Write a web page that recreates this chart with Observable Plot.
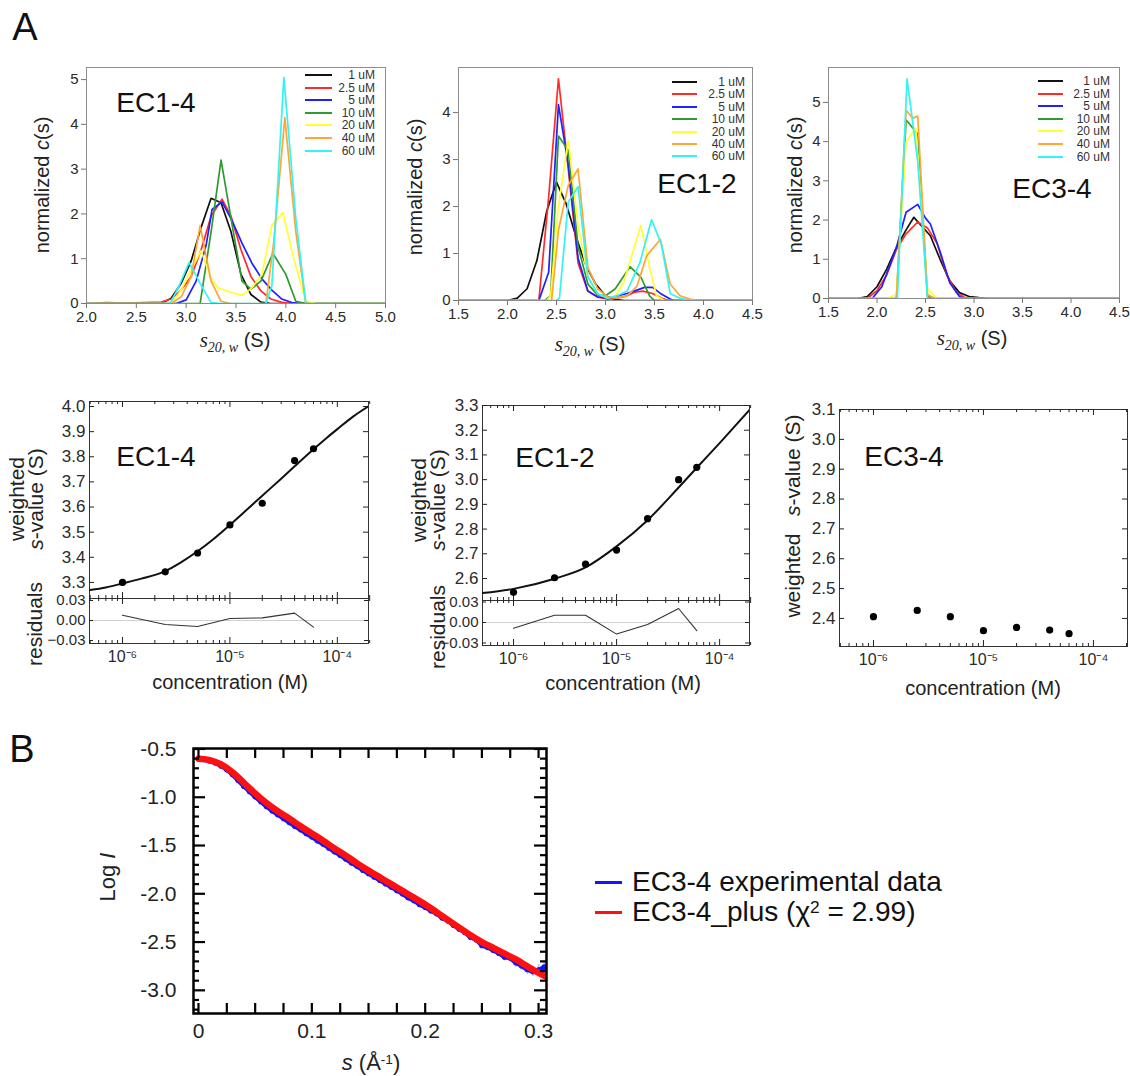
<!DOCTYPE html>
<html><head><meta charset="utf-8"><title>AUC and SAXS figure</title>
<script src="https://cdn.jsdelivr.net/npm/d3@7"></script>
<script src="https://cdn.jsdelivr.net/npm/@observablehq/plot@0.6"></script>
<style>
html,body{margin:0;padding:0;background:#fff;}
#root{position:relative;width:1130px;height:1076px;overflow:hidden;background:#fff;font-family:'Liberation Sans',Arial,Helvetica,sans-serif;color:#222;}
.lbl{position:absolute;white-space:nowrap;line-height:1;}
.ser{font-family:'Liberation Serif','Times New Roman',serif;font-style:italic;}
.sp{position:relative;top:-0.45em;font-size:0.62em;line-height:0;}
</style></head><body><div id="root"></div>
<script>
const FONT = "'Liberation Sans', Arial, Helvetica, sans-serif";

// ---------- Panel A top row: c(s) distributions ----------
const concLabels = ["1 uM", "2.5 uM", "5 uM", "10 uM", "20 uM", "40 uM", "60 uM"];
const concColors = ["#111111", "#ff2b2b", "#2020ff", "#2f9a2f", "#ffff33", "#ffa634", "#33f3f3"];

// EC1-4  [s20,w (S), normalized c(s)]
const ec14_1uM = [[2.0,0],[2.75,0],[2.85,0.12],[2.95,0.45],[3.05,0.95],[3.15,1.7],[3.25,2.35],[3.35,2.25],[3.45,1.6],[3.55,0.65],[3.65,0.2],[3.75,0.03],[3.85,0],[5.0,0]];
const ec14_2_5uM = [[2.0,0],[2.2,0.02],[2.4,0.01],[2.75,0.03],[2.85,0.1],[2.95,0.3],[3.05,0.6],[3.15,1.2],[3.25,1.95],[3.36,2.33],[3.45,1.95],[3.55,1.2],[3.65,0.6],[3.75,0.28],[3.85,0.1],[3.95,0.03],[4.05,0],[5.0,0]];
const ec14_5uM = [[2.0,0],[2.9,0],[3.0,0.08],[3.1,0.5],[3.2,1.3],[3.26,2.1],[3.36,2.27],[3.46,1.85],[3.56,1.35],[3.66,0.9],[3.76,0.55],[3.86,0.3],[3.96,0.1],[4.06,0.02],[4.15,0],[5.0,0]];
const ec14_10uM = [[2.0,0],[3.14,0],[3.25,1.6],[3.35,3.2],[3.45,1.9],[3.56,0.5],[3.65,0.32],[3.75,0.5],[3.87,1.12],[4.0,0.65],[4.1,0.05],[4.2,0],[5.0,0]];
const ec14_20uM = [[2.0,0],[2.85,0],[2.95,0.3],[3.05,0.75],[3.15,1.18],[3.25,0.55],[3.32,0.35],[3.45,0.25],[3.56,0.18],[3.66,0.35],[3.76,0.65],[3.86,1.75],[3.97,2.03],[4.08,1.0],[4.2,0.06],[4.3,0],[5.0,0]];
const ec14_40uM = [[2.0,0],[2.85,0],[2.95,0.15],[3.05,0.6],[3.14,1.74],[3.25,0.5],[3.35,0.05],[3.45,0],[3.8,0],[3.88,1.4],[3.99,4.15],[4.1,1.6],[4.2,0],[5.0,0]];
const ec14_60uM = [[2.0,0],[2.84,0],[2.93,0.4],[3.03,0.92],[3.14,0.45],[3.25,0.02],[3.35,0],[3.8,0],[3.86,0.4],[3.98,5.05],[4.1,1.9],[4.2,0],[5.0,0]];

// EC1-2
const ec12_1uM = [[1.5,0],[2.0,0],[2.1,0.05],[2.2,0.25],[2.3,0.85],[2.4,1.9],[2.5,2.52],[2.6,2.05],[2.7,1.35],[2.8,0.75],[2.9,0.35],[3.0,0.1],[3.1,0.02],[3.2,0],[4.5,0]];
const ec12_2_5uM = [[1.5,0],[2.32,0],[2.42,2.2],[2.52,4.72],[2.62,2.8],[2.72,0.8],[2.82,0.2],[2.92,0.07],[3.02,0.03],[3.12,0.05],[3.22,0.1],[3.3,0.18],[3.38,0.2],[3.48,0.15],[3.58,0.04],[3.65,0],[4.5,0]];
const ec12_5uM = [[1.5,0],[2.32,0],[2.42,0.6],[2.52,4.17],[2.62,2.9],[2.72,0.9],[2.82,0.2],[2.92,0.08],[3.02,0.05],[3.12,0.1],[3.22,0.15],[3.32,0.22],[3.4,0.28],[3.48,0.28],[3.56,0.15],[3.66,0.03],[3.7,0],[4.5,0]];
const ec12_10uM = [[1.5,0],[2.38,0],[2.44,0.1],[2.52,3.5],[2.62,3.2],[2.72,1.15],[2.82,0.35],[2.92,0.12],[3.0,0.1],[3.1,0.25],[3.18,0.5],[3.25,0.72],[3.36,0.5],[3.45,0.1],[3.5,0],[4.5,0]];
const ec12_20uM = [[1.5,0],[2.4,0],[2.44,0.1],[2.52,2.0],[2.62,3.42],[2.72,1.6],[2.82,0.5],[2.92,0.15],[3.02,0.05],[3.1,0.1],[3.18,0.35],[3.26,0.9],[3.36,1.6],[3.45,0.7],[3.52,0.1],[3.6,0],[4.5,0]];
const ec12_40uM = [[1.5,0],[2.45,0],[2.52,1.5],[2.62,2.45],[2.72,2.8],[2.82,0.7],[2.92,0.25],[3.02,0.08],[3.12,0.05],[3.22,0.1],[3.32,0.3],[3.42,0.95],[3.56,1.3],[3.66,0.35],[3.76,0.1],[3.86,0.03],[3.95,0],[4.5,0]];
const ec12_60uM = [[1.5,0],[2.5,0],[2.53,0.05],[2.62,2.1],[2.72,2.42],[2.82,0.5],[2.92,0.15],[3.02,0.05],[3.12,0.1],[3.22,0.2],[3.35,0.8],[3.47,1.72],[3.57,1.2],[3.66,0.15],[3.76,0.05],[3.86,0],[4.5,0]];

// EC3-4
const ec34_1uM = [[1.5,0],[1.8,0],[1.9,0.05],[2.0,0.3],[2.1,0.75],[2.2,1.3],[2.3,1.75],[2.38,2.07],[2.46,1.85],[2.55,1.6],[2.65,1.0],[2.75,0.45],[2.85,0.15],[2.95,0.05],[3.05,0.02],[3.15,0],[4.5,0]];
const ec34_2_5uM = [[1.5,0],[1.9,0],[2.0,0.2],[2.1,0.6],[2.2,1.25],[2.3,1.65],[2.42,1.95],[2.52,1.8],[2.62,1.4],[2.72,0.6],[2.82,0.15],[2.9,0.03],[3.0,0],[4.5,0]];
const ec34_5uM = [[1.5,0],[1.95,0],[2.05,0.3],[2.2,1.3],[2.3,2.2],[2.42,2.4],[2.5,2.05],[2.55,1.9],[2.65,1.2],[2.75,0.4],[2.85,0.05],[2.9,0],[4.5,0]];
const ec34_10uM = [[1.5,0],[2.2,0],[2.3,4.55],[2.42,4.2],[2.52,0.05],[2.6,0],[4.5,0]];
const ec34_20uM = [[1.5,0],[2.1,0],[2.2,0.1],[2.3,4.0],[2.4,4.35],[2.52,0.25],[2.62,0],[4.5,0]];
const ec34_40uM = [[1.5,0],[2.2,0],[2.3,4.8],[2.37,4.6],[2.42,4.65],[2.52,0.1],[2.6,0],[4.5,0]];
const ec34_60uM = [[1.5,0],[2.21,0],[2.31,5.6],[2.42,3.5],[2.52,0],[4.5,0]];

const csTicksX14 = [2.0, 2.5, 3.0, 3.5, 4.0, 4.5, 5.0];
const csTicksX = [1.5, 2.0, 2.5, 3.0, 3.5, 4.0, 4.5];
const csTicksY5 = [0, 1, 2, 3, 4, 5];
const csTicksY4 = [0, 1, 2, 3, 4];

// ---------- Panel A bottom row: weighted s-values ----------
const concM = [1e-6, 2.5e-6, 5e-6, 1e-5, 2e-5, 4e-5, 6e-5];
const ec14_sw = [3.300, 3.342, 3.417, 3.529, 3.615, 3.785, 3.832];
const ec14_res = [0.008, -0.006, -0.009, 0.003, 0.004, 0.011, -0.010];
const ec14_fitConc = [5e-7, 7e-7, 1e-6, 1.5e-6, 2.5e-6, 3.5e-6, 5e-6, 7e-6, 1e-5, 1.4e-5, 2e-5, 3e-5, 4e-5, 6e-5, 8e-5, 1e-4, 1.4e-4, 2e-4];
const ec14_fitS = [3.270, 3.280, 3.296, 3.315, 3.345, 3.380, 3.424, 3.472, 3.529, 3.585, 3.645, 3.713, 3.762, 3.830, 3.876, 3.910, 3.960, 4.004];

const ec12_sw = [2.544, 2.603, 2.658, 2.715, 2.842, 3.000, 3.050];
const ec12_res = [-0.0085, 0.0105, 0.0105, -0.017, -0.003, 0.0205, -0.012];
const ec12_fitConc = [5e-7, 1e-6, 2.5e-6, 5e-6, 1e-5, 2e-5, 4e-5, 6e-5, 1e-4, 2e-4];
const ec12_fitS = [2.541, 2.558, 2.599, 2.645, 2.730, 2.836, 2.968, 3.048, 3.148, 3.287];

const ec34_sw = [2.406, 2.427, 2.406, 2.359, 2.370, 2.361, 2.349];

const swTicks14 = [3.3, 3.4, 3.5, 3.6, 3.7, 3.8, 3.9, 4.0];
const swTicks12 = [2.6, 2.7, 2.8, 2.9, 3.0, 3.1, 3.2, 3.3];
const swTicks34 = [2.4, 2.5, 2.6, 2.7, 2.8, 2.9, 3.0, 3.1];
const resTicks = [-0.03, 0, 0.03];
const concMajor = [1e-6, 1e-5, 1e-4];
const concMinor = [5e-7, 6e-7, 7e-7, 8e-7, 9e-7, 2e-6, 3e-6, 4e-6, 5e-6, 6e-6, 7e-6, 8e-6, 9e-6, 2e-5, 3e-5, 4e-5, 5e-5, 6e-5, 7e-5, 8e-5, 9e-5, 2e-4];

// ---------- Panel B: SAXS ----------
const bS_fit = [0, 0.005, 0.01, 0.02, 0.03, 0.04, 0.05, 0.06, 0.07, 0.08, 0.09, 0.10, 0.11, 0.12, 0.13, 0.14, 0.15, 0.16, 0.17, 0.18, 0.19, 0.20, 0.21, 0.22, 0.23, 0.24, 0.25, 0.26, 0.27, 0.28, 0.29, 0.30, 0.307];
const bLogI_fit = [-0.60, -0.605, -0.615, -0.66, -0.74, -0.85, -0.96, -1.06, -1.145, -1.22, -1.30, -1.375, -1.45, -1.53, -1.605, -1.685, -1.76, -1.83, -1.90, -1.97, -2.04, -2.11, -2.19, -2.27, -2.35, -2.43, -2.50, -2.56, -2.62, -2.68, -2.75, -2.82, -2.86];
const bS_exp = [0.000, 0.005, 0.010, 0.015, 0.020, 0.025, 0.030, 0.035, 0.040, 0.045, 0.050, 0.055, 0.060, 0.065, 0.070, 0.075, 0.080, 0.085, 0.090, 0.095, 0.100, 0.105, 0.110, 0.115, 0.120, 0.125, 0.130, 0.135, 0.140, 0.145, 0.150, 0.155, 0.160, 0.165, 0.170, 0.175, 0.180, 0.185, 0.190, 0.195, 0.200, 0.205, 0.210, 0.215, 0.220, 0.225, 0.230, 0.235, 0.240, 0.245, 0.250, 0.255, 0.260, 0.265, 0.270, 0.275, 0.280, 0.285, 0.290, 0.295, 0.300, 0.305];
const bLogI_exp = [-0.60, -0.61, -0.625, -0.645, -0.675, -0.715, -0.765, -0.825, -0.885, -0.94, -0.995, -1.045, -1.095, -1.14, -1.18, -1.22, -1.26, -1.30, -1.335, -1.375, -1.41, -1.45, -1.485, -1.525, -1.565, -1.60, -1.64, -1.68, -1.715, -1.755, -1.79, -1.825, -1.86, -1.895, -1.93, -1.965, -2.00, -2.04, -2.07, -2.11, -2.14, -2.175, -2.205, -2.25, -2.28, -2.325, -2.365, -2.40, -2.45, -2.475, -2.535, -2.555, -2.585, -2.615, -2.655, -2.665, -2.715, -2.745, -2.785, -2.805, -2.79, -2.76];
const bErr_exp = [0.004, 0.004, 0.004, 0.004, 0.004, 0.004, 0.004, 0.004, 0.004, 0.004, 0.004, 0.004, 0.004, 0.004, 0.004, 0.004, 0.004, 0.004, 0.004, 0.004, 0.004, 0.004, 0.004, 0.004, 0.004, 0.004, 0.004, 0.004, 0.004, 0.004, 0.004, 0.004, 0.004, 0.004, 0.004, 0.004, 0.004, 0.004, 0.004, 0.004, 0.01, 0.01, 0.012, 0.015, 0.015, 0.018, 0.02, 0.022, 0.025, 0.028, 0.03, 0.032, 0.035, 0.037, 0.04, 0.042, 0.045, 0.048, 0.05, 0.052, 0.055, 0.06];
const bTicksX = [0, 0.1, 0.2, 0.3];
const bTicksXMinor = [0.025, 0.05, 0.075, 0.125, 0.15, 0.175, 0.225, 0.25, 0.275];
const bTicksY = [-3.0, -2.5, -2.0, -1.5, -1.0, -0.5];
const bTicksYMinor = [-3.2, -3.1, -2.9, -2.8, -2.7, -2.6, -2.4, -2.3, -2.2, -2.1, -1.9, -1.8, -1.7, -1.6, -1.4, -1.3, -1.2, -1.1, -0.9, -0.8, -0.7, -0.6];
const bLegend = ["EC3-4 experimental data", "EC3-4_plus (χ<span class=\"sp\">2</span> = 2.99)"];
const bColors = ["#1414ff", "#ff1010"];

// ---------- helpers ----------
const root = document.getElementById("root");
function put(node, left, top) {
  node.style.position = "absolute";
  node.style.left = left + "px";
  node.style.top = top + "px";
  root.appendChild(node);
  return node;
}
function label(html, cx, cy, css = "", mode = "c") {
  const d = document.createElement("div");
  d.className = "lbl";
  d.innerHTML = html;
  d.style.cssText += css;
  d.style.left = cx + "px";
  d.style.top = cy + "px";
  d.style.transform = mode === "r" ? "translate(-50%,-50%) rotate(-90deg)"
    : mode === "right" ? "translate(-100%,-50%)"
    : mode === "left" ? "translate(0,-50%)" : "translate(-50%,-50%)";
  root.appendChild(d);
  return d;
}
function swatch(x1, x2, y, color, h) {
  const d = document.createElement("div");
  d.style.cssText = `position:absolute;left:${x1}px;top:${y - h / 2}px;width:${x2 - x1}px;height:${h}px;background:${color};`;
  root.appendChild(d);
}
const sup = {"-": "⁻", "0": "⁰", "1": "¹", "2": "²", "3": "³", "4": "⁴", "5": "⁵", "6": "⁶", "7": "⁷", "8": "⁸", "9": "⁹"};
const powFmt = d => "10" + String(Math.round(Math.log10(d))).split("").map(c => sup[c]).join("");

function ticksX(ticks, edge, len, fh, sw = 1, stroke = "#222") {
  return Plot.tickX(ticks, {x: d => d, stroke, strokeWidth: sw, [edge === "top" ? "insetBottom" : "insetTop"]: fh - len});
}
function ticksY(ticks, edge, len, fw, sw = 1, stroke = "#222") {
  return Plot.tickY(ticks, {y: d => d, stroke, strokeWidth: sw, [edge === "left" ? "insetRight" : "insetLeft"]: fw - len});
}

// ---------- top row ----------
function csPanel(series, o) {
  const rows = [];
  series.forEach((pts, i) => pts.forEach(([s, c]) => rows.push({s, c, conc: concLabels[i]})));
  const svg = Plot.plot({
    width: o.width, height: o.height,
    marginLeft: o.ml, marginRight: o.mr, marginTop: o.mt, marginBottom: o.mb,
    style: {fontFamily: FONT, fontSize: "15px", color: "#2a2a2a", background: "transparent", overflow: "visible"},
    x: {domain: o.xDomain},
    y: {domain: o.yDomain},
    color: {domain: concLabels, range: concColors},
    marks: [
      Plot.line(rows, {x: "s", y: "c", z: "conc", stroke: "conc", strokeWidth: 1.7, clip: true}),
      Plot.frame({stroke: "#8d8d8d"}),
      Plot.axisX({ticks: o.xTicks, tickFormat: d3.format(".1f"), tickSize: 5, tickPadding: 3, stroke: "#777", label: null}),
      Plot.axisY({ticks: o.yTicks, tickFormat: d3.format("d"), tickSize: 5, tickPadding: 3, stroke: "#777", label: null})
    ]
  });
  put(svg, o.left, o.top);
  concLabels.forEach((lab, i) => {
    const y = o.legY + i * o.legStep;
    swatch(o.legX1, o.legX2, y, concColors[i], 2);
    label(lab, o.legXR, y, "font-size:12px;color:#333;", "right");
  });
}

csPanel([ec14_1uM, ec14_2_5uM, ec14_5uM, ec14_10uM, ec14_20uM, ec14_40uM, ec14_60uM], {
  left: 0, top: 50, width: 400, height: 300, ml: 86, mr: 15, mt: 17, mb: 47,
  xDomain: [2, 5], yDomain: [0, 5.27], xTicks: csTicksX14, yTicks: csTicksY5,
  legX1: 305, legX2: 332, legXR: 375, legY: 75, legStep: 12.6
});
csPanel([ec12_1uM, ec12_2_5uM, ec12_5uM, ec12_10uM, ec12_20uM, ec12_40uM, ec12_60uM], {
  left: 380, top: 50, width: 380, height: 300, ml: 78, mr: 8, mt: 17, mb: 50,
  xDomain: [1.5, 4.5], yDomain: [0, 4.96], xTicks: csTicksX, yTicks: csTicksY4,
  legX1: 672, legX2: 697, legXR: 745, legY: 82, legStep: 12.4
});
csPanel([ec34_1uM, ec34_2_5uM, ec34_5uM, ec34_10uM, ec34_20uM, ec34_40uM, ec34_60uM], {
  left: 760, top: 50, width: 370, height: 300, ml: 68, mr: 11, mt: 17, mb: 52,
  xDomain: [1.5, 4.5], yDomain: [0, 5.89], xTicks: csTicksX, yTicks: csTicksY5,
  legX1: 1038, legX2: 1063, legXR: 1110, legY: 81, legStep: 12.6
});

const sTitle = `<span class="ser" style="font-size:21px">s</span><sub class="ser" style="font-size:14px">20, w</sub> (S)`;
const csY = `normalized <i>c</i>(s)`;
[[235, 342], [590, 346], [972, 340]].forEach(([x, y]) => label(sTitle, x, y, "font-size:20px;"));
[[42, 185], [415, 187], [795, 185]].forEach(([x, y]) => label(csY, x, y, "font-size:20px;", "r"));
label("EC1-4", 156, 103, "font-size:28px;color:#111;");
label("EC1-2", 697, 184, "font-size:28px;color:#111;");
label("EC3-4", 1052, 189, "font-size:28px;color:#111;");

// ---------- bottom row ----------
function swUpper(o) {
  const fh = o.height - o.mt - o.mb, fw = o.width - o.ml - o.mr;
  const marks = [
    Plot.frame({stroke: "#333"}),
    ticksX(concMajor, "top", 6, fh), ticksX(concMinor, "top", 3, fh),
    ticksX(concMajor, "bottom", 6, fh), ticksX(concMinor, "bottom", 3, fh),
    ticksY(o.yTicks, "left", 5, fw), ticksY(o.yTicks, "right", 5, fw),
    Plot.axisY({ticks: o.yTicks, tickSize: 0, tickPadding: 4, tickFormat: d3.format(".1f"), label: null})
  ];
  if (o.fitC) marks.push(Plot.line(o.fitC.map((c, i) => ({c, s: o.fitS[i]})), {x: "c", y: "s", stroke: "#111", strokeWidth: 2, curve: "monotone-x", clip: true}));
  marks.push(Plot.dot(concM.map((c, i) => ({c, s: o.sw[i]})), {x: "c", y: "s", r: 3.6, fill: "#000", stroke: "none"}));
  if (o.xLabels) marks.push(Plot.axisX({ticks: concMajor, tickSize: 0, tickPadding: 7, tickFormat: powFmt, label: null, fontSize: 16}));
  const svg = Plot.plot({
    width: o.width, height: o.height, marginLeft: o.ml, marginRight: o.mr, marginTop: o.mt, marginBottom: o.mb,
    style: {fontFamily: FONT, fontSize: "17px", color: "#2a2a2a", background: "transparent", overflow: "visible"},
    x: {type: "log", domain: o.xDomain, axis: o.xLabels ? undefined : null},
    y: {domain: o.yDomain},
    marks
  });
  put(svg, o.left, o.top);
}
function swResid(o) {
  const fh = o.height - o.mt - o.mb, fw = o.width - o.ml - o.mr;
  const svg = Plot.plot({
    width: o.width, height: o.height, marginLeft: o.ml, marginRight: o.mr, marginTop: o.mt, marginBottom: o.mb,
    style: {fontFamily: FONT, fontSize: "14px", color: "#2a2a2a", background: "transparent", overflow: "visible"},
    x: {type: "log", domain: o.xDomain},
    y: {domain: o.yDomain},
    marks: [
      Plot.ruleY([0], {stroke: "#d0d0d0", strokeWidth: 1}),
      Plot.line(concM.map((c, i) => ({c, r: o.res[i]})), {x: "c", y: "r", stroke: "#333", strokeWidth: 1.1}),
      Plot.frame({stroke: "#333"}),
      ticksX(concMajor, "bottom", 6, fh), ticksX(concMinor, "bottom", 3, fh),
      ticksX(concMajor, "top", 6, fh), ticksX(concMinor, "top", 3, fh),
      ticksY(resTicks, "left", 4, fw), ticksY(resTicks, "right", 4, fw),
      Plot.axisY({ticks: resTicks, tickSize: 0, tickPadding: 4, tickFormat: d3.format(".2f"), label: null, fontSize: 15}),
      Plot.axisX({ticks: concMajor, tickSize: 0, tickPadding: 7, tickFormat: powFmt, label: null, fontSize: 16})
    ]
  });
  put(svg, o.left, o.top);
}

swUpper({left: 0, top: 380, width: 380, height: 218, ml: 89, mr: 12, mt: 21, mb: 0,
  xDomain: [4.93e-7, 1.95e-4], yDomain: [3.236, 4.02], yTicks: swTicks14, sw: ec14_sw, fitC: ec14_fitConc, fitS: ec14_fitS});
swResid({left: 0, top: 598, width: 380, height: 110, ml: 89, mr: 12, mt: 0, mb: 65,
  xDomain: [4.93e-7, 1.95e-4], yDomain: [-0.0345, 0.033], res: ec14_res});

swUpper({left: 380, top: 380, width: 380, height: 220, ml: 102, mr: 11, mt: 25, mb: 0,
  xDomain: [5.0e-7, 1.95e-4], yDomain: [2.511, 3.30], yTicks: swTicks12, sw: ec12_sw, fitC: ec12_fitConc, fitS: ec12_fitS});
swResid({left: 380, top: 600, width: 380, height: 110, ml: 102, mr: 11, mt: 0, mb: 65,
  xDomain: [5.0e-7, 1.95e-4], yDomain: [-0.0337, 0.0322], res: ec12_res});

swUpper({left: 760, top: 380, width: 370, height: 300, ml: 79, mr: 3, mt: 29, mb: 34,
  xDomain: [4.91e-7, 2.04e-4], yDomain: [2.306, 3.10], yTicks: swTicks34, sw: ec34_sw, xLabels: true});

label("weighted", 16, 499, "font-size:21px;", "r");
label("<i>s</i>-value (S)", 35, 499, "font-size:21px;", "r");
label("residuals", 34, 624, "font-size:21px;", "r");
label("weighted", 418, 500, "font-size:21px;", "r");
label("<i>s</i>-value (S)", 437, 500, "font-size:21px;", "r");
label("residuals", 437, 627, "font-size:21px;", "r");
label("weighted&nbsp;&nbsp;&nbsp;<i>s</i>-value (S)", 792, 516, "font-size:21px;", "r");
label("concentration (M)", 230, 682, "font-size:20px;");
label("concentration (M)", 623, 683, "font-size:20px;");
label("concentration (M)", 983, 688, "font-size:20px;");
label("EC1-4", 156, 457, "font-size:28px;color:#111;");
label("EC1-2", 555, 458, "font-size:28px;color:#111;");
label("EC3-4", 904, 457, "font-size:28px;color:#111;");

// ---------- Panel B ----------
(function () {
  const o = {width: 480, height: 346, ml: 113, mr: 14, mt: 18, mb: 63};
  const fh = o.height - o.mt - o.mb, fw = o.width - o.ml - o.mr;
  const exp = bS_exp.map((s, i) => ({s, v: bLogI_exp[i], e: bErr_exp[i]}));
  const fit = bS_fit.map((s, i) => ({s, v: bLogI_fit[i]}));
  const svg = Plot.plot({
    width: o.width, height: o.height, marginLeft: o.ml, marginRight: o.mr, marginTop: o.mt, marginBottom: o.mb,
    style: {fontFamily: FONT, fontSize: "21px", color: "#222", background: "transparent", overflow: "visible"},
    x: {domain: [-0.0044, 0.307]},
    y: {domain: [-3.24, -0.495]},
    marks: [
      Plot.ruleX(exp, {x: "s", y1: d => d.v - d.e, y2: d => d.v + d.e, stroke: "#7a7aff", strokeOpacity: 0.45, strokeWidth: 2, clip: true}),
      Plot.line(exp, {x: "s", y: "v", stroke: bColors[0], strokeWidth: 4.5, clip: true}),
      Plot.dot(exp, {x: "s", y: "v", r: 2.8, fill: bColors[0], stroke: "none", clip: true}),
      Plot.line(fit, {x: "s", y: "v", stroke: bColors[1], strokeWidth: 6.5, strokeLinecap: "round", curve: "monotone-x", clip: true}),
      ticksX(bTicksX, "top", 10, fh, 2.2, "#000"), ticksX(bTicksXMinor, "top", 10, fh, 2.2, "#000"),
      ticksX(bTicksX, "bottom", 10, fh, 2.2, "#000"), ticksX(bTicksXMinor, "bottom", 10, fh, 2.2, "#000"),
      ticksY(bTicksY, "left", 12, fw, 2.2, "#000"), ticksY(bTicksYMinor, "left", 6, fw, 2.2, "#000"),
      ticksY(bTicksY, "right", 12, fw, 2.2, "#000"), ticksY(bTicksYMinor, "right", 6, fw, 2.2, "#000"),
      Plot.frame({stroke: "#000", strokeWidth: 2.5}),
      Plot.axisY({ticks: bTicksY, tickSize: 0, tickPadding: 17, tickFormat: d => d.toFixed(1), label: null}),
      Plot.axisX({ticks: bTicksX, tickSize: 0, tickPadding: 10, tickFormat: d => d === 0 ? "0" : d.toFixed(1), label: null})
    ]
  });
  put(svg, 80, 730);
})();
label("Log <i>I</i>", 108, 877, "font-size:22px;", "r");
label(`<i>s</i> (Å<span class="sp">-1</span>)`, 371, 1063, "font-size:22px;");
bLegend.forEach((t, i) => {
  const y = 882 + i * 30;
  swatch(595, 622, y, bColors[i], 3);
  label(t, 632, y, "font-size:28px;color:#111;", "left");
});

label("A", 25, 27, "font-size:38px;color:#111;");
label("B", 22, 749, "font-size:38px;color:#111;");
</script></body></html>
